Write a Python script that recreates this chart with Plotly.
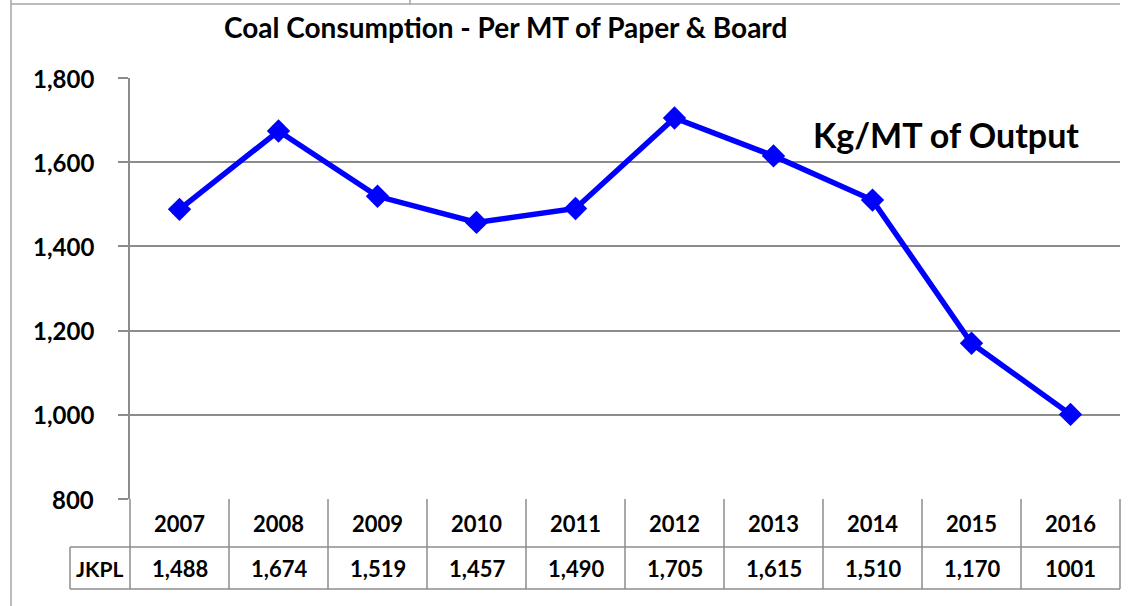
import plotly.graph_objects as go

years = ["2007", "2008", "2009", "2010", "2011", "2012", "2013", "2014", "2015", "2016"]
jkpl = [1488, 1674, 1519, 1457, 1490, 1705, 1615, 1510, 1170, 1001]
jkpl_labels = ["1,488", "1,674", "1,519", "1,457", "1,490", "1,705", "1,615", "1,510", "1,170", "1001"]
y_ticks = [800, 1000, 1200, 1400, 1600, 1800]
series_name = "JKPL"
title_text = "Coal Consumption - Per MT of Paper & Board"
unit_text = "Kg/MT of Output"

W, H = 1128, 606
L, R, T, B = 130, 1120, 78, 499  # plot area in pixels
FONT = "Lato"
GRID = "#8c8c8c"


def px(xp):
    return (xp - L) / (R - L)


def py(yp):
    return (B - yp) / (B - T)


fig = go.Figure()
fig.add_trace(go.Scatter(
    x=years, y=jkpl, mode="lines+markers", name=series_name,
    line=dict(color="#0000ff", width=5.5),
    marker=dict(symbol="diamond", size=18, color="#0000ff"),
    cliponaxis=False, showlegend=False,
))

shapes = []
row1, row2 = 547, 589
for yy in (row1, row2):
    shapes.append(dict(type="line", xref="paper", yref="paper", x0=px(70), x1=px(R), y0=py(yy), y1=py(yy),
                       line=dict(color=GRID, width=1.5)))
n = len(years)
for k in range(n + 1):
    shapes.append(dict(type="line", xref="paper", yref="paper", x0=k / n, x1=k / n, y0=py(B), y1=py(row2),
                       line=dict(color=GRID, width=1.5)))
shapes.append(dict(type="line", xref="paper", yref="paper", x0=px(70), x1=px(70), y0=py(row1), y1=py(row2),
                   line=dict(color=GRID, width=1.5)))
# outer frame pieces
shapes.append(dict(type="line", xref="paper", yref="paper", x0=px(11), x1=px(11), y0=py(0), y1=py(H),
                   line=dict(color="#a6a6a6", width=1.5)))
shapes.append(dict(type="line", xref="paper", yref="paper", x0=px(11), x1=px(1120), y0=py(4), y1=py(4),
                   line=dict(color="#a6a6a6", width=1.5)))
shapes.append(dict(type="line", xref="paper", yref="paper", x0=px(410), x1=px(410), y0=py(0), y1=py(5),
                   line=dict(color="#a6a6a6", width=1.5)))

annotations = []
for v in y_ticks:
    annotations.append(dict(x=px(96), xref="paper", y=v, yref="y", text=f"<b>{v:,}</b>", showarrow=False,
                            font=dict(family=FONT, size=24, color="black"), xanchor="right", yanchor="middle"))
for i, (yr, lab) in enumerate(zip(years, jkpl_labels)):
    annotations.append(dict(x=i, xref="x", y=py(523), yref="paper", text=f"<b>{yr}</b>", showarrow=False,
                            font=dict(family=FONT, size=22, color="black"), xanchor="center", yanchor="middle"))
    annotations.append(dict(x=i, xref="x", y=py(568), yref="paper", text=f"<b>{lab}</b>", showarrow=False,
                            font=dict(family=FONT, size=22, color="black"), xanchor="center", yanchor="middle"))
annotations.append(dict(x=px(99), xref="paper", y=py(568), yref="paper", text=f"<b>{series_name}</b>",
                        showarrow=False, font=dict(family=FONT, size=21, color="black"),
                        xanchor="center", yanchor="middle"))
annotations.append(dict(x=px(505), xref="paper", y=py(27), yref="paper", text=f"<b>{title_text}</b>",
                        showarrow=False, font=dict(family=FONT, size=28, color="black"),
                        xanchor="center", yanchor="middle"))
annotations.append(dict(x=px(946), xref="paper", y=py(134), yref="paper", text=f"<b>{unit_text}</b>",
                        showarrow=False, font=dict(family=FONT, size=34, color="black"),
                        xanchor="center", yanchor="middle"))

fig.update_layout(
    width=W, height=H,
    margin=dict(l=L, r=W - R, t=T, b=H - B, autoexpand=False),
    paper_bgcolor="white", plot_bgcolor="white",
    shapes=shapes, annotations=annotations,
    xaxis=dict(type="category", range=[-0.5, n - 0.5], showticklabels=False, showgrid=False,
               zeroline=False, showline=False, ticks=""),
    yaxis=dict(range=[800, 1800], tickvals=y_ticks, showticklabels=False,
               showgrid=True, gridcolor=GRID, gridwidth=1.5,
               zeroline=False, showline=True, linecolor=GRID, linewidth=1.5,
               ticks="outside", ticklen=10, tickcolor=GRID, tickwidth=1.5),
)

fig.write_html("out.html", config={"displayModeBar": False},
               post_script="document.body.style.margin='0px';")
